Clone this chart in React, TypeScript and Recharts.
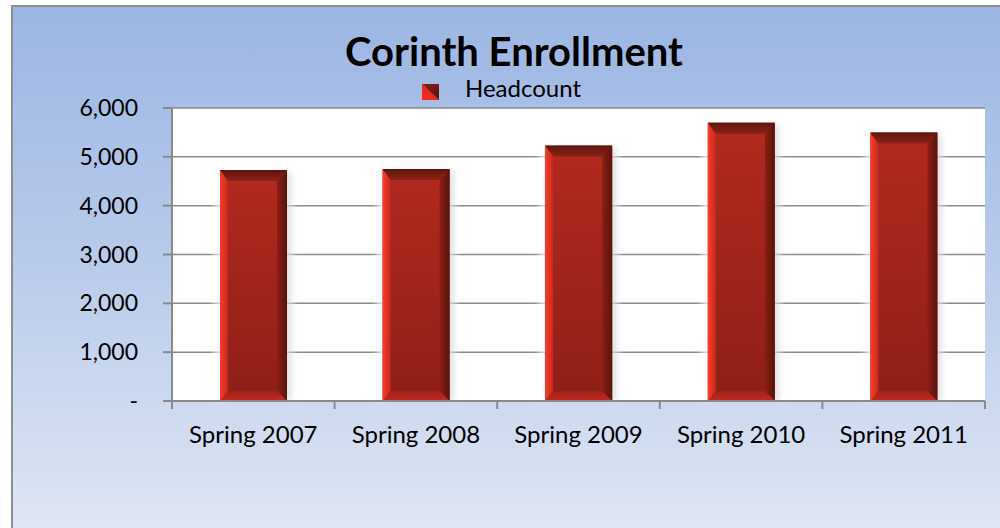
import React from 'react';
import { BarChart, Bar, XAxis, YAxis, CartesianGrid } from 'recharts';

const chartTitle = 'Corinth Enrollment';
const seriesName = 'Headcount';
const categories = ['Spring 2007', 'Spring 2008', 'Spring 2009', 'Spring 2010', 'Spring 2011'];
const headcount = [4730, 4750, 5230, 5700, 5500];
const yTicks = [0, 1000, 2000, 3000, 4000, 5000, 6000];

const data = categories.map((c, i) => ({ category: c, headcount: headcount[i] }));

const CHART_W = 987;
const CHART_H = 521;
const MARGIN = { top: 101, right: 15, bottom: 87, left: 99 };
const Y_AXIS_W = 60;
const PLOT_W = CHART_W - MARGIN.left - Y_AXIS_W - MARGIN.right;
const HALF_BAND = PLOT_W / categories.length / 2;
const AXIS_COLOR = '#8a8a8a';
const FONT = 'Lato, "Open Sans", sans-serif';

const fmt = (v: number) => (v === 0 ? '-' : v.toLocaleString('en-US'));

const XTick = (props: any) => {
  const { x, y, payload, index } = props;
  const last = index === categories.length - 1;
  return (
    <g>
      <line x1={x - HALF_BAND} y1={y} x2={x - HALF_BAND} y2={y + 8} stroke={AXIS_COLOR} strokeWidth={2} />
      {last && <line x1={x + HALF_BAND} y1={y} x2={x + HALF_BAND} y2={y + 8} stroke={AXIS_COLOR} strokeWidth={2} />}
      <text x={x} y={y + 42} textAnchor="middle" fill="#000" fontSize={24} fontFamily={FONT}>
        {payload.value}
      </text>
    </g>
  );
};

const BevelBar = (props: any) => {
  const { x, y, width: w, height: h } = props;
  if (!w || !h) return null;
  const l = 8, t = 11, r = 10, b = 10;
  const ix1 = x + l, iy1 = y + t, ix2 = x + w - r, iy2 = y + h - b;
  return (
    <g>
      <rect x={x - 6} y={y - 4} width={w + 12} height={h + 4} fill="#ffffff" opacity={0.7} filter="url(#haloBlur)" />
      <rect x={x + 2} y={y + 2} width={w + 2} height={h - 2} fill="#000000" opacity={0.12} filter="url(#haloBlur)" />
      <rect x={x} y={y} width={w} height={h} fill="url(#bodyGrad)" />
      <polygon points={`${x},${y} ${ix1},${iy1} ${ix1},${iy2} ${x},${y + h}`} fill="url(#leftGrad)" />
      <polygon points={`${x + w},${y} ${x + w},${y + h} ${ix2},${iy2} ${ix2},${iy1}`} fill="url(#rightGrad)" />
      <polygon points={`${x},${y + h} ${ix1},${iy2} ${ix2},${iy2} ${x + w},${y + h}`} fill="url(#bottomGrad)" />
      <polygon points={`${x},${y} ${x + w},${y} ${ix2},${iy1} ${ix1},${iy1}`} fill="url(#topGrad)" />
    </g>
  );
};

export default function App() {
  return (
    <div
      style={{
        position: 'absolute',
        left: 11,
        top: 5,
        width: 989,
        height: 523,
        boxSizing: 'border-box',
        borderLeft: '2px solid #8e8e8e',
        borderTop: '2px solid #8e8e8e',
        background: 'linear-gradient(to bottom, #9cb6e3 0%, #b6c9ea 45%, #dfe6f4 100%)',
        overflow: 'hidden',
      }}
    >
      <svg width={CHART_W} height={CHART_H} style={{ position: 'absolute', left: 0, top: 0 }}>
        <defs>
          <filter id="haloBlur" x="-50%" y="-50%" width="200%" height="200%">
            <feGaussianBlur stdDeviation="3" />
          </filter>
          <linearGradient id="bodyGrad" x1="0" y1="0" x2="0" y2="1">
            <stop offset="0" stopColor="#b2291f" />
            <stop offset="1" stopColor="#8e1f16" />
          </linearGradient>
          <linearGradient id="leftGrad" x1="0" y1="0" x2="1" y2="0">
            <stop offset="0" stopColor="#ff3b2b" />
            <stop offset="1" stopColor="#c22a1f" />
          </linearGradient>
          <linearGradient id="rightGrad" x1="0" y1="0" x2="1" y2="0">
            <stop offset="0" stopColor="#8a1f16" />
            <stop offset="1" stopColor="#58130c" />
          </linearGradient>
          <linearGradient id="topGrad" x1="0" y1="0" x2="0" y2="1">
            <stop offset="0" stopColor="#5c150e" />
            <stop offset="1" stopColor="#8e2117" />
          </linearGradient>
          <linearGradient id="bottomGrad" x1="0" y1="0" x2="0" y2="1">
            <stop offset="0" stopColor="#9c241a" />
            <stop offset="1" stopColor="#c8291d" />
          </linearGradient>
          <linearGradient id="legBright" x1="0" y1="1" x2="1" y2="0">
            <stop offset="0" stopColor="#ff2d1e" />
            <stop offset="1" stopColor="#c8271b" />
          </linearGradient>
          <linearGradient id="legDark" x1="0" y1="0" x2="1" y2="1">
            <stop offset="0" stopColor="#8a2016" />
            <stop offset="1" stopColor="#5a140d" />
          </linearGradient>
        </defs>
      </svg>
      <div style={{ position: 'absolute', left: 0, top: 0 }}>
        <BarChart width={CHART_W} height={CHART_H} data={data} margin={MARGIN}>
          <CartesianGrid vertical={false} stroke={AXIS_COLOR} strokeWidth={1.5} fill="#ffffff" fillOpacity={1} />
          <XAxis
            dataKey="category"
            height={40}
            interval={0}
            tickLine={false}
            tickSize={0}
            tickMargin={0}
            axisLine={{ stroke: AXIS_COLOR, strokeWidth: 2 }}
            tick={<XTick />}
          />
          <YAxis
            width={Y_AXIS_W}
            domain={[0, 6000]}
            ticks={yTicks}
            interval={0}
            tickFormatter={fmt}
            tickSize={9}
            tickMargin={25}
            axisLine={{ stroke: AXIS_COLOR, strokeWidth: 2 }}
            tickLine={{ stroke: AXIS_COLOR, strokeWidth: 2 }}
            tick={{ fill: '#000', fontSize: 23, fontFamily: FONT }}
          />
          <Bar dataKey="headcount" name={seriesName} barSize={67} shape={<BevelBar />} isAnimationActive={false} />
        </BarChart>
      </div>
      <svg width={CHART_W} height={CHART_H} style={{ position: 'absolute', left: 0, top: 0, pointerEvents: 'none' }}>
        <text x={501} y={59} textAnchor="middle" fontSize={40} fontWeight="bold" fontFamily={FONT} fill="#000">
          {chartTitle}
        </text>
        <polygon points="409,77 409,93 426,93" fill="url(#legBright)" />
        <polygon points="409,77 426,77 426,93" fill="url(#legDark)" />
        <text x={452} y={90} fontSize={24} fontFamily={FONT} fill="#000">
          {seriesName}
        </text>
      </svg>
    </div>
  );
}
